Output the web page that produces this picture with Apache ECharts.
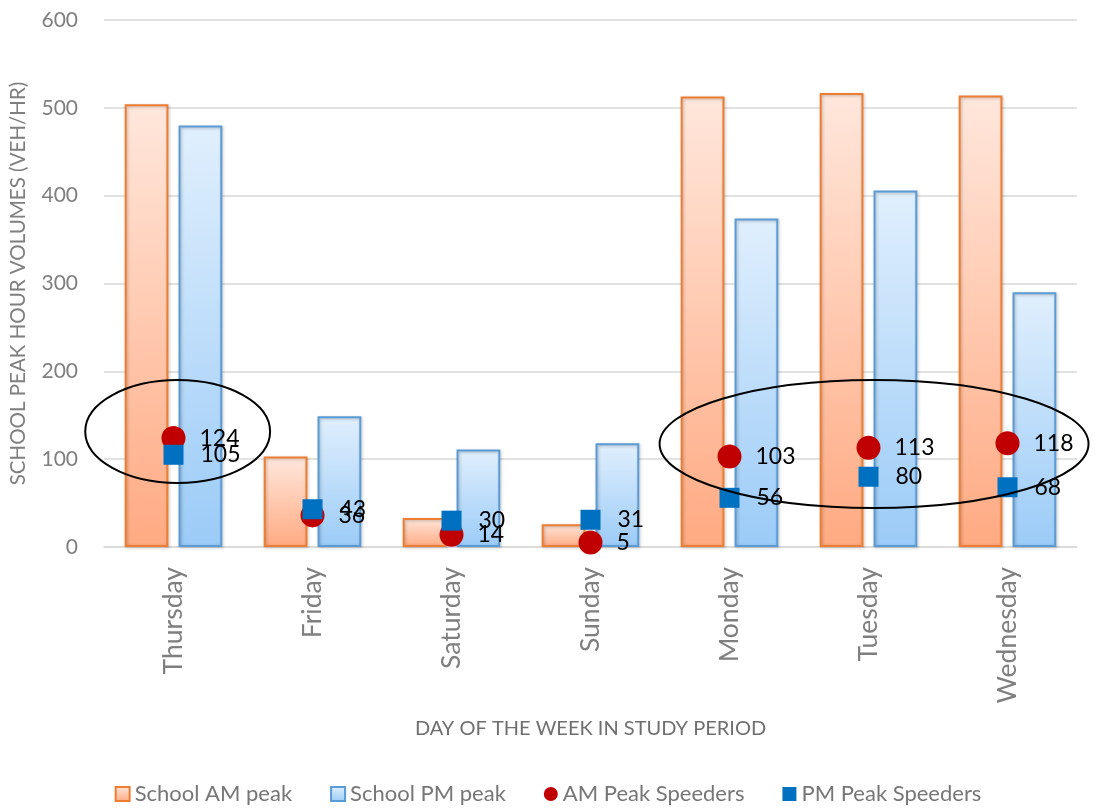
<!DOCTYPE html>
<html>
<head>
<meta charset="utf-8">
<style>html,body{margin:0;padding:0;background:#fff;}#c{width:1096px;height:810px;}</style>
<script src="https://cdn.jsdelivr.net/npm/echarts@6/dist/echarts.min.js"></script>
</head>
<body>
<div id="c"></div>
<script>
const categories = ['Thursday','Friday','Saturday','Sunday','Monday','Tuesday','Wednesday'];
const schoolAM = [504, 103, 33, 26, 513, 517, 514];
const schoolPM = [480, 149, 111, 118, 374, 406, 290];
const amSpeeders = [124, 36, 14, 5, 103, 113, 118];
const pmSpeeders = [105, 43, 30, 31, 56, 80, 68];
// annotation ellipses in data units: [center category index, center value, half-width (categories), half-height (value)]
const ellipses = [[0.03, 131.5, 0.665, 58.6], [5.04, 117.3, 1.543, 72.9]];

const FONT = 'Lato, "Noto Sans", sans-serif';
const chart = echarts.init(document.getElementById('c'));
const grad = (a, b) => new echarts.graphic.LinearGradient(0, 0, 0, 1, [{offset: 0, color: a}, {offset: 1, color: b}]);
const shadow = {shadowBlur: 3, shadowColor: 'rgba(0,0,0,0.25)', shadowOffsetX: 1, shadowOffsetY: 1};

chart.setOption({
  animation: false,
  textStyle: {fontFamily: FONT},
  grid: {left: 102, right: 19, top: 20, bottom: 263, containLabel: false},
  legend: {
    bottom: 0, left: 'center', itemGap: 38, itemWidth: 14, itemHeight: 14,
    textStyle: {fontFamily: FONT, fontSize: 22, color: '#767676'},
    data: [
      {name: 'School AM peak', icon: 'rect'},
      {name: 'School PM peak', icon: 'rect'},
      {name: 'AM Peak Speeders', icon: 'circle'},
      {name: 'PM Peak Speeders', icon: 'rect'}
    ]
  },
  xAxis: {
    type: 'category', data: categories,
    name: 'DAY OF THE WEEK IN STUDY PERIOD', nameLocation: 'middle', nameGap: 172,
    nameTextStyle: {fontFamily: FONT, fontSize: 20, color: '#6F6F6F'},
    axisLine: {lineStyle: {color: '#D9D9D9', width: 1.5}},
    axisTick: {show: false},
    axisLabel: {rotate: 90, fontSize: 26.5, color: '#7F7F7F', margin: 20, fontFamily: FONT}
  },
  yAxis: {
    type: 'value', min: 0, max: 600, interval: 100,
    name: 'SCHOOL PEAK HOUR VOLUMES (VEH/HR)', nameLocation: 'middle', nameGap: 75, nameRotate: 90,
    nameTextStyle: {fontFamily: FONT, fontSize: 20.5, color: '#7F7F7F'},
    axisLine: {show: false}, axisTick: {show: false},
    axisLabel: {fontSize: 21, color: '#7F7F7F', margin: 26, fontFamily: FONT},
    splitLine: {lineStyle: {color: '#D9D9D9', width: 1.5}}
  },
  series: [
    {
      name: 'School AM peak', type: 'bar', data: schoolAM, barWidth: '31.5%', barGap: '23%',
      itemStyle: Object.assign({color: grad('#FFE7DC', '#FFAA82'), borderColor: '#ED7D31', borderWidth: 2}, shadow)
    },
    {
      name: 'School PM peak', type: 'bar', data: schoolPM, barWidth: '31.5%', barGap: '23%',
      itemStyle: Object.assign({color: grad('#E0EFFD', '#9BCBF7'), borderColor: '#5B9BD5', borderWidth: 2}, shadow)
    },
    {
      name: 'AM Peak Speeders', type: 'scatter', data: amSpeeders, symbol: 'circle', symbolSize: 24, z: 5,
      itemStyle: {color: '#C00000', opacity: 1},
      label: {show: true, position: 'right', distance: 14, fontSize: 23, color: '#000', fontFamily: FONT}
    },
    {
      name: 'PM Peak Speeders', type: 'scatter', data: pmSpeeders, symbol: 'rect', symbolSize: 20, z: 6,
      itemStyle: {color: '#0070C0', opacity: 1},
      label: {show: true, position: 'right', distance: 17, fontSize: 23, color: '#000', fontFamily: FONT}
    }
  ]
});

// pixel size of one category step and of one value unit, from the axes
const p0 = chart.convertToPixel({gridIndex: 0}, [0, 0]);
const p1 = chart.convertToPixel({gridIndex: 0}, [1, 100]);
const catStep = p1[0] - p0[0];
const valStep = (p0[1] - p1[1]) / 100;
const shapes = ellipses.map(e => {
  const cx = p0[0] + e[0] * catStep;
  const cy = p0[1] - e[1] * valStep;
  return {
    type: 'ellipse', z: 10, silent: true,
    shape: {cx: cx, cy: cy, rx: e[2] * catStep, ry: e[3] * valStep},
    style: {fill: 'none', stroke: '#000', lineWidth: 2}
  };
});
chart.setOption({graphic: shapes});
</script>
</body>
</html>
